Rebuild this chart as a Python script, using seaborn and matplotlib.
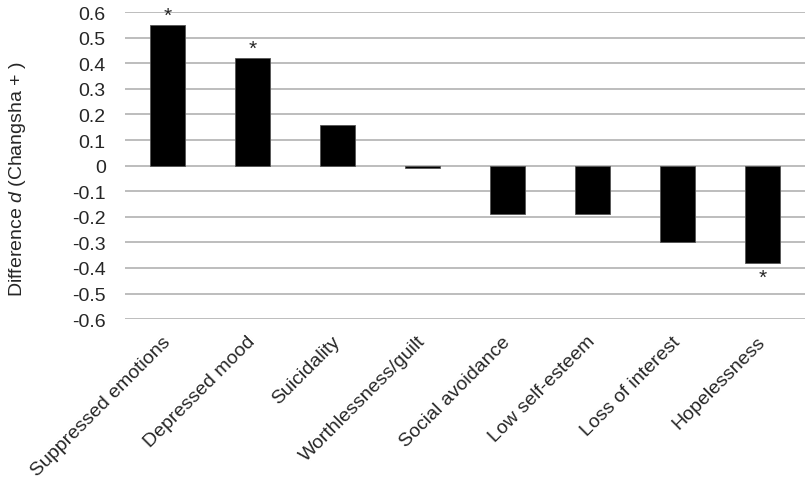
import matplotlib
matplotlib.use("Agg")
import matplotlib.pyplot as plt
import pandas as pd
import seaborn as sns

symptoms = ["Suppressed emotions", "Depressed mood", "Suicidality",
            "Worthlessness/guilt", "Social avoidance", "Low self-esteem",
            "Loss of interest", "Hopelessness"]
diff_d = [0.55, 0.42, 0.16, -0.01, -0.19, -0.19, -0.30, -0.38]
significant = [True, True, False, False, False, False, False, True]
y_ticks = [0.6, 0.5, 0.4, 0.3, 0.2, 0.1, 0, -0.1, -0.2, -0.3, -0.4, -0.5, -0.6]

df = pd.DataFrame({"symptom": symptoms, "d": diff_d, "sig": significant})

sns.set_theme(style="white")
plt.rcParams["font.family"] = ["Liberation Sans", "DejaVu Sans"]
plt.rcParams["mathtext.fontset"] = "custom"
plt.rcParams["mathtext.it"] = "Liberation Sans:italic"
plt.rcParams["mathtext.rm"] = "Liberation Sans"

fig = plt.figure(figsize=(8.07, 4.85), dpi=100)
ax = fig.add_axes([0.155, 0.340, 0.843, 0.633])

sns.barplot(data=df, x="symptom", y="d", color="black", width=0.41,
            edgecolor="#555555", linewidth=0.6, saturation=1, ax=ax, zorder=3)

ax.set_ylim(-0.6, 0.6)
ax.set_yticks(y_ticks)
ax.set_yticklabels([f"{t:g}" for t in y_ticks], fontsize=14)
ax.yaxis.grid(True, color="#ababab", linewidth=1.1, zorder=0)
ax.set_axisbelow(True)
for s in ax.spines.values():
    s.set_visible(False)
ax.tick_params(axis="y", length=0, pad=14)
ax.tick_params(axis="x", length=0, pad=14)

ax.set_xticks(range(len(symptoms)))
ax.set_xticklabels(symptoms, rotation=45, ha="right", va="center",
                   rotation_mode="anchor", fontsize=14)
ax.set_xlim(-0.5, len(symptoms) - 0.5)
ax.set_xlabel("")
ax.set_ylabel("Difference $\\it{d}$ (Changsha + )", fontsize=14)
ax.yaxis.set_label_coords(-0.143, 0.46)

# significance stars
for i, row in df.iterrows():
    if row["sig"]:
        off = 0 if row["d"] > 0 else -17
        ax.annotate("*", xy=(i, row["d"]), xytext=(0, off),
                    textcoords="offset points", ha="center", va="bottom",
                    fontsize=15)

fig.savefig("out.png", dpi=100)
